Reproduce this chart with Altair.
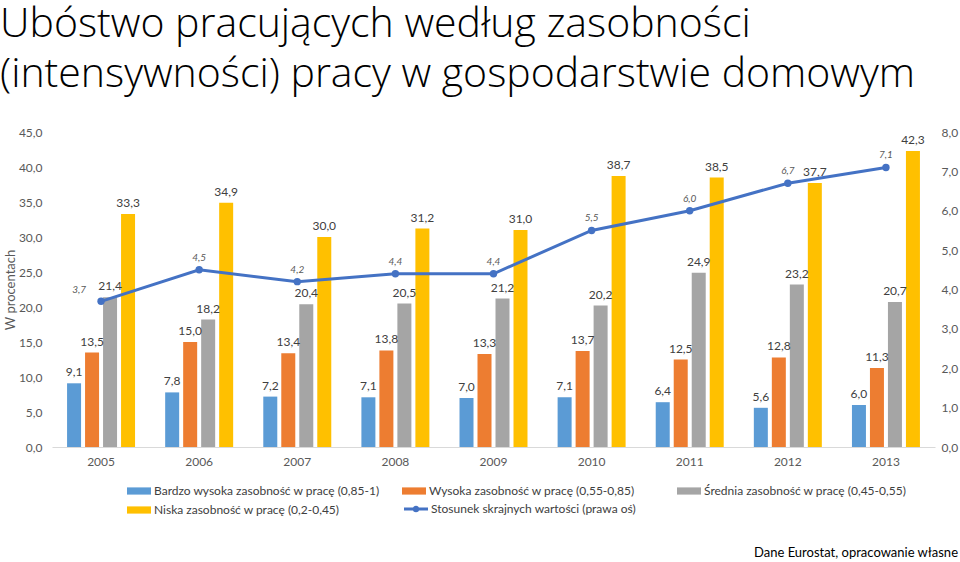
import altair as alt
import pandas as pd

years = ["2005", "2006", "2007", "2008", "2009", "2010", "2011", "2012", "2013"]
series = [
    "Bardzo wysoka zasobność w pracę (0,85-1)",
    "Wysoka zasobność w pracę (0,55-0,85)",
    "Średnia zasobność w pracę (0,45-0,55)",
    "Niska zasobność w pracę (0,2-0,45)",
]
line_name = ["Stosunek skrajnych wartości (prawa oś)"]
colors = ["#5B9BD5", "#ED7D31", "#A5A5A5", "#FFC000"]
line_color = "#4472C4"

very_high = [9.1, 7.8, 7.2, 7.1, 7.0, 7.1, 6.4, 5.6, 6.0]
high = [13.5, 15.0, 13.4, 13.8, 13.3, 13.7, 12.5, 12.8, 11.3]
medium = [21.4, 18.2, 20.4, 20.5, 21.2, 20.2, 24.9, 23.2, 20.7]
low = [33.3, 34.9, 30.0, 31.2, 31.0, 38.7, 38.5, 37.7, 42.3]
ratio = [3.7, 4.5, 4.2, 4.4, 4.4, 5.5, 6.0, 6.7, 7.1]

title_lines = ["Ubóstwo pracujących według zasobności",
               "(intensywności) pracy w gospodarstwie domowym"]
source_text = ["Dane Eurostat, opracowanie własne"]
y_left_ticks = [0, 5, 10, 15, 20, 25, 30, 35, 40, 45]
y_right_ticks = [0, 1, 2, 3, 4, 5, 6, 7, 8]

rows = []
for s, vals in zip(series, [very_high, high, medium, low]):
    for y, v in zip(years, vals):
        rows.append({"year": y, "series": s, "value": v})
bars_df = pd.DataFrame(rows)
line_df = pd.DataFrame({"year": years, "ratio": ratio, "name": line_name * len(years)})
src_df = pd.DataFrame({"t": source_text})

FONT = "Lato"
W, H = 883, 315
fmt = "replace(format(datum.value, '.1f'), '.', ',')"

x_enc = alt.X(
    "year:N",
    sort=years,
    scale=alt.Scale(paddingInner=0.307, paddingOuter=0.1535),
    axis=alt.Axis(title=None, labelAngle=0, ticks=False, domain=True,
                  domainColor="#D9D9D9", domainWidth=1, labelFont=FONT,
                  labelFontSize=12, labelColor="#595959", labelPadding=9),
)
x_off = alt.XOffset("series:N",
                    scale=alt.Scale(domain=series, paddingInner=0.222, paddingOuter=0))

y_left = alt.Y(
    "value:Q",
    scale=alt.Scale(domain=[0, 45], nice=False),
    axis=alt.Axis(orient="left", values=y_left_ticks, labelExpr=fmt, grid=False,
                  ticks=False, domain=False, title="W procentach", titleFont=FONT,
                  titleFontSize=13, titleFontWeight="normal", titleColor="#595959",
                  titlePadding=1, labelFont=FONT, labelFontSize=12,
                  labelColor="#595959", labelPadding=10),
)
y_right = alt.Y(
    "ratio:Q",
    scale=alt.Scale(domain=[0, 8], nice=False),
    axis=alt.Axis(orient="right", values=y_right_ticks, labelExpr=fmt, grid=False,
                  ticks=False, domain=False, title=None, labelFont=FONT,
                  labelFontSize=12, labelColor="#595959", labelPadding=6),
)

sym_rect = "M-1,-0.3L1,-0.3L1,0.3L-1,0.3Z"
sym_line = ("M-1,-0.12L1,-0.12L1,0.12L-1,0.12Z "
            "M-0.28,0A0.28,0.28 0 1,1 0.28,0A0.28,0.28 0 1,1 -0.28,0Z")

bar_legend = alt.Legend(
    title=None, orient="none", legendX=75, legendY=347, columns=3,
    direction="horizontal",
    gridAlign="all", columnPadding=22, rowPadding=1, values=series,
    labelFont=FONT, labelFontSize=12, labelColor="#404040", labelOffset=3,
    symbolType=sym_rect, symbolSize=576, labelLimit=400, symbolStrokeWidth=0,
    symbolOpacity=1,
)
line_legend = alt.Legend(
    title=None, orient="none", legendX=352, legendY=365,
    labelFont=FONT, labelFontSize=12, labelColor="#404040", labelOffset=3,
    symbolType=sym_line, symbolSize=576, labelLimit=400, symbolStrokeWidth=0,
    symbolFillColor=line_color, symbolOpacity=1,
)

color_enc = alt.Color("series:N",
                      scale=alt.Scale(domain=series, range=colors), legend=bar_legend)

bars = alt.Chart(bars_df).mark_bar().encode(
    x=x_enc, xOffset=x_off, y=y_left, color=color_enc
)
bar_text = alt.Chart(bars_df).transform_calculate(
    label=fmt
).mark_text(baseline="bottom", dy=-4, font=FONT, fontSize=12, color="#404040").encode(
    x=x_enc, xOffset=x_off, y=y_left, text="label:N",
)
src = alt.Chart(src_df).mark_text(align="right", baseline="middle", font=FONT,
                                  fontSize=13, color="#000000").encode(
    x=alt.value(W + 23), y=alt.value(H + 106), text="t:N"
)
left = alt.layer(bars, bar_text, src)

line = alt.Chart(line_df).mark_line(color=line_color, strokeWidth=3).encode(
    x=x_enc, y=y_right
)
pts = alt.Chart(line_df).mark_circle(color=line_color, size=55).encode(
    x=x_enc, y=y_right,
    opacity=alt.Opacity("name:N", scale=alt.Scale(domain=line_name, range=[1]),
                        legend=line_legend),
)
line_text = alt.Chart(line_df).transform_filter(
    "datum.year != '2005'"
).transform_calculate(
    label="replace(format(datum.ratio, '.1f'), '.', ',')"
).mark_text(baseline="bottom", dy=-7, font=FONT, fontSize=10, fontStyle="italic",
            color="#595959").encode(x=x_enc, y=y_right, text="label:N")
first_text = alt.Chart(line_df).transform_filter(
    "datum.year == '2005'"
).transform_calculate(
    label="replace(format(datum.ratio, '.1f'), '.', ',')"
).mark_text(baseline="middle", dx=-22, dy=-11, font=FONT, fontSize=10,
            fontStyle="italic", color="#595959").encode(x=x_enc, y=y_right, text="label:N")
right = alt.layer(line, pts, line_text, first_text)

chart = alt.layer(left, right).resolve_scale(y="independent").properties(
    width=W, height=H,
    autosize=alt.AutoSizeParams(type="none"),
    padding={"left": 52, "top": 132, "right": 25, "bottom": 115},
    title=alt.TitleParams(text=title_lines, anchor="start", frame="group", dx=-52,
                          offset=30, font="Open Sans", fontSize=41, fontWeight=300,
                          color="#000000", lineHeight=50),
).configure(background="white", view=alt.ViewConfig(stroke=None))

chart.save("out.html", embed_options={"renderer": "svg", "actions": False})
